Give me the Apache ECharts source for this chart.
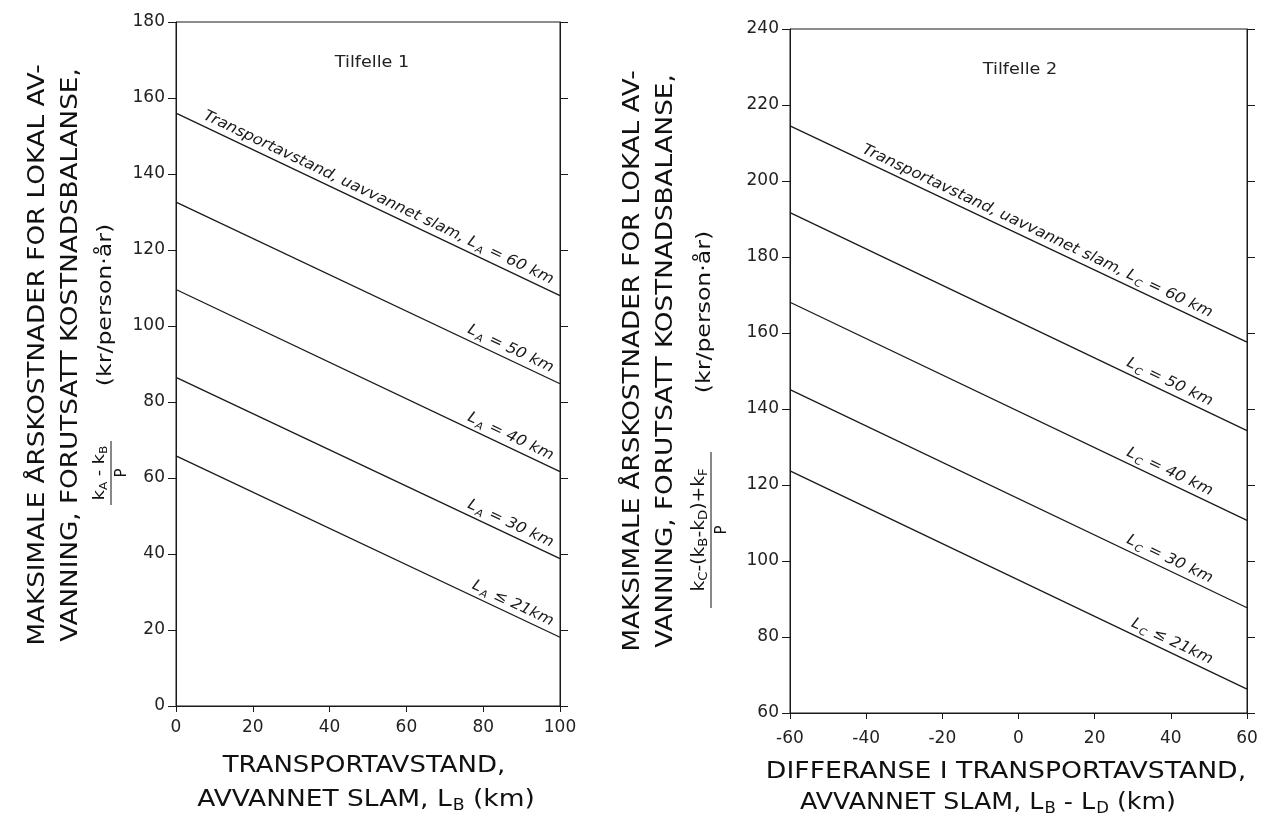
<!DOCTYPE html>
<html><head><meta charset="utf-8">
<script src="https://cdn.jsdelivr.net/npm/echarts@6/dist/echarts.min.js"></script>
<style>html,body{margin:0;padding:0;background:#fff}#c{width:1272px;height:827px}</style>
</head><body><div id="c"></div>
<script>
const FONT = 'DejaVu Sans';
const INK = '#1a1a1a';

// ---- Tilfelle 1 ----
const leftX = [0, 100];                                  // L_B (km), line ends
const leftStart = [156, 132.6, 109.6, 86.5, 65.8];       // value at L_B = 0
const leftEnd = [108, 84.8, 61.7, 38.8, 18.1];           // value at L_B = 100
const leftSub = 'A';
const leftKm = ['60', '50', '40', '30', '21'];
const leftXRange = [0, 100, 20];
const leftYRange = [0, 180, 20];

// ---- Tilfelle 2 ----
const rightX = [-60, 60];                                // L_B - L_D (km)
const rightStart = [214.5, 191.7, 168.1, 145.1, 123.7];  // value at -60
const rightEnd = [157.6, 134.3, 110.7, 87.7, 66.3];      // value at 60
const rightSub = 'C';
const rightKm = ['60', '50', '40', '30', '21'];
const rightXRange = [-60, 60, 20];
const rightYRange = [60, 240, 20];

const chart = echarts.init(document.getElementById('c'), null, {renderer: 'canvas'});

function xAx(grid, r, margin) {
  return {type: 'value', gridIndex: grid, min: r[0], max: r[1], interval: r[2], position: 'bottom',
    axisLine: {show: true, onZero: false, lineStyle: {color: INK, width: 1}},
    axisTick: {show: true, inside: false, length: 6, lineStyle: {color: INK}},
    axisLabel: {show: true, margin: margin, color: '#222', fontFamily: FONT, fontSize: 17},
    splitLine: {show: false}};
}
function yAx(grid, r, pos, labels) {
  return {type: 'value', gridIndex: grid, min: r[0], max: r[1], interval: r[2], position: pos,
    axisLine: {show: true, onZero: false, lineStyle: {color: INK, width: 1}},
    axisTick: {show: true, inside: false, length: 8, lineStyle: {color: INK}},
    axisLabel: {show: labels, margin: 11, color: '#222', fontFamily: FONT, fontSize: 17},
    splitLine: {show: false}};
}

const series = [];
leftStart.forEach((v, i) => series.push({type: 'line', xAxisIndex: 0, yAxisIndex: 0, symbol: 'none', silent: true,
  lineStyle: {color: INK, width: 1.3}, data: [[leftX[0], v], [leftX[1], leftEnd[i]]]}));
rightStart.forEach((v, i) => series.push({type: 'line', xAxisIndex: 1, yAxisIndex: 2, symbol: 'none', silent: true,
  lineStyle: {color: INK, width: 1.3}, data: [[rightX[0], v], [rightX[1], rightEnd[i]]]}));

chart.setOption({
  animation: false,
  backgroundColor: '#fff',
  grid: [
    {left: 176, top: 22, width: 384, height: 684, show: true, borderColor: INK, borderWidth: 1},
    {left: 790, top: 29, width: 457, height: 684, show: true, borderColor: INK, borderWidth: 1}
  ],
  xAxis: [xAx(0, leftXRange, 13), xAx(1, rightXRange, 17)],
  yAxis: [yAx(0, leftYRange, 'left', true), yAx(0, leftYRange, 'right', false),
          yAx(1, rightYRange, 'left', true), yAx(1, rightYRange, 'right', false)],
  series: series
});

const lblRich = {
  L: {fontFamily: FONT, fontStyle: 'italic', fontSize: 15, color: INK},
  s: {fontFamily: FONT, fontStyle: 'italic', fontSize: 10, color: INK, padding: [9, 1, 0, 1]},
  t: {fontFamily: FONT, fontStyle: 'italic', fontSize: 15, color: INK}
};
function lineText(sub, km, i) {
  const op = km === '21' ? ' \u2264 ' : ' = ';
  const unit = km === '21' ? 'km' : ' km';
  const core = '{L|L}{s|' + sub + '}{t|' + op + km + unit + '}';
  return i === 0 ? 'Transportavstand, uavvannet slam, ' + core : core;
}

const graphics = [];
function addLineLabels(gridIndex, xs, starts, ends, sub, kms, back, gap) {
  for (let i = 0; i < starts.length; i++) {
    const p0 = chart.convertToPixel({gridIndex: gridIndex}, [xs[0], starts[i]]);
    const p1 = chart.convertToPixel({gridIndex: gridIndex}, [xs[1], ends[i]]);
    const dx = p1[0] - p0[0], dy = p1[1] - p0[1], len = Math.hypot(dx, dy);
    const ux = dx / len, uy = dy / len, nx = uy, ny = -ux;
    graphics.push({type: 'text', silent: true,
      x: p1[0] - ux * back + nx * gap, y: p1[1] - uy * back + ny * gap,
      rotation: Math.atan2(-dy, dx), scaleX: 1.08,
      style: {text: lineText(sub, kms[i], i), rich: lblRich, align: 'right', verticalAlign: 'bottom',
        fontFamily: FONT, fontStyle: 'italic', fontSize: 15, fill: INK}});
  }
}
addLineLabels(0, leftX, leftStart, leftEnd, leftSub, leftKm, 13, 1);
addLineLabels(1, rightX, rightStart, rightEnd, rightSub, rightKm, 44, 1);

// titles inside plots
graphics.push({type: 'text', x: 372, y: 63, scaleX: 1.1, style: {text: 'Tilfelle 1', align: 'center', verticalAlign: 'middle', fontFamily: FONT, fontSize: 16, fill: '#222'}});
graphics.push({type: 'text', x: 1020, y: 70, scaleX: 1.1, style: {text: 'Tilfelle 2', align: 'center', verticalAlign: 'middle', fontFamily: FONT, fontSize: 16, fill: '#222'}});

// x axis names
const nameRich = {
  n: {fontFamily: FONT, fontSize: 23, color: '#111'},
  s2: {fontFamily: FONT, fontSize: 15, color: '#111', padding: [12, 0, 0, 1]}
};
function nameText(x, y, text, sx) {
  graphics.push({type: 'text', x: x, y: y, silent: true, scaleX: sx,
    style: {text: text, rich: nameRich, align: 'center', verticalAlign: 'middle', fontFamily: FONT, fontSize: 23, fill: '#111'}});
}
nameText(364, 766, '{n|TRANSPORTAVSTAND,}', 1.13);
nameText(366, 800, '{n|AVVANNET SLAM, L}{s2|B}{n| (km)}', 1.15);
nameText(1006, 772, '{n|DIFFERANSE I TRANSPORTAVSTAND,}', 1.16);
nameText(988, 803, '{n|AVVANNET SLAM, L}{s2|B}{n| - L}{s2|D}{n| (km)}', 1.1);

// y axis names (rotated groups)
function fracRich(fs) {
  return {
    k: {fontFamily: FONT, fontSize: fs, color: '#111'},
    s: {fontFamily: FONT, fontSize: fs - 5, color: '#111', padding: [8, 0, 0, 0]}
  };
}
function yTitle(cx, cy, numer, fs, numerCenter, numerY, barHalf, unitCenter, unitY) {
  graphics.push({type: 'group', x: cx, y: cy, rotation: Math.PI / 2, silent: true, children: [
    {type: 'text', x: 0, y: 0, scaleX: 1.14, style: {text: 'MAKSIMALE \u00c5RSKOSTNADER FOR LOKAL AV-', align: 'center', verticalAlign: 'middle', fontFamily: FONT, fontSize: 23, fill: '#111'}},
    {type: 'text', x: 0, y: 33, scaleX: 1.14, style: {text: 'VANNING, FORUTSATT KOSTNADSBALANSE,', align: 'center', verticalAlign: 'middle', fontFamily: FONT, fontSize: 23, fill: '#111'}},
    {type: 'text', x: numerCenter, y: numerY, scaleX: 1.1, style: {text: numer, rich: fracRich(fs), align: 'center', verticalAlign: 'middle', fontFamily: FONT, fontSize: fs, fill: '#111'}},
    {type: 'line', shape: {x1: numerCenter - barHalf, y1: numerY + 11, x2: numerCenter + barHalf, y2: numerY + 11}, style: {stroke: '#111', lineWidth: 1}},
    {type: 'text', x: numerCenter, y: numerY + 22, style: {text: 'P', align: 'center', verticalAlign: 'middle', fontFamily: FONT, fontSize: 15, fill: '#111'}},
    {type: 'text', x: unitCenter, y: unitY, scaleX: 1.18, style: {text: '(kr/person\u00b7\u00e5r)', align: 'center', verticalAlign: 'middle', fontFamily: FONT, fontSize: 20, fill: '#111'}}
  ]});
}
yTitle(38, 355, '{k|k}{s|A}{k| - k}{s|B}', 16, -118, 62, 32, 50, 68);
yTitle(633, 361, '{k|k}{s|C}{k|-(k}{s|B}{k|-k}{s|D}{k|)+k}{s|F}', 17, -169, 67, 78, 49, 72);

chart.setOption({graphic: graphics});
</script>
</body></html>
